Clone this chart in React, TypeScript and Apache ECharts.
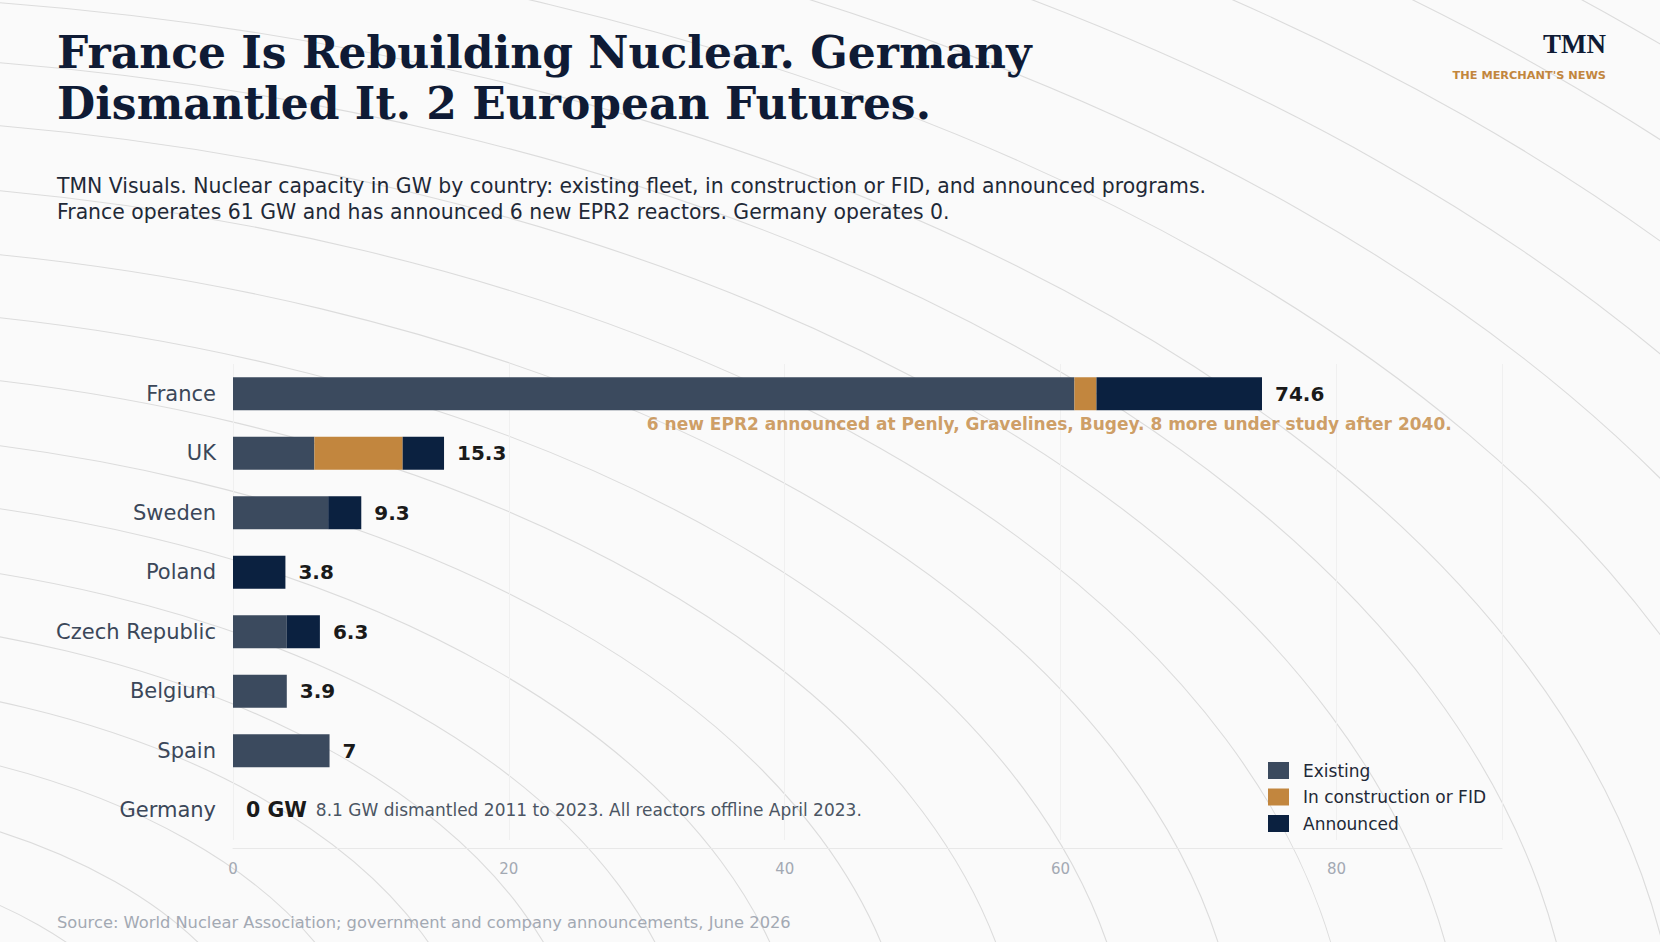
import React, { useEffect, useRef } from "react";
import * as echarts from "echarts";

const countries = ["France", "UK", "Sweden", "Poland", "Czech Republic", "Belgium", "Spain", "Germany"];
const existing = [61, 5.9, 6.9, 0, 3.9, 3.9, 7, 0];
const construction = [1.6, 6.4, 0, 0, 0, 0, 0, 0];
const announced = [12, 3.0, 2.4, 3.8, 2.4, 0, 0, 0];
const seriesNames = ["Existing", "In construction or FID", "Announced"];
const xTicks = [0, 20, 40, 60, 80];
const franceNoteAt = 30;
const franceNote = "6 new EPR2 announced at Penly, Gravelines, Bugey. 8 more under study after 2040.";
const germanyNote = "8.1 GW dismantled 2011 to 2023. All reactors offline April 2023.";
const germanyValue = "0 GW";

const titleText = "France Is Rebuilding Nuclear. Germany\nDismantled It. 2 European Futures.";
const subtitleText =
  "TMN Visuals. Nuclear capacity in GW by country: existing fleet, in construction or FID, and announced programs.\nFrance operates 61 GW and has announced 6 new EPR2 reactors. Germany operates 0.";
const sourceText = "Source: World Nuclear Association; government and company announcements, June 2026";

// decorative background rings (normalized to page size)
const ringCenter = [-0.16, 1.165];
const ringRadii = [0.259, 0.3241, 0.3864, 0.4492, 0.5143, 0.5783, 0.6449, 0.7098, 0.7772, 0.8427, 0.9085, 0.9754, 1.0435, 1.1097, 1.1728, 1.2595, 1.3331, 1.403, 1.4738, 1.5426, 1.6113];

const W = 1660;
const H = 942;
const SANS = "DejaVu Sans, sans-serif";
const SERIF = "DejaVu Serif, serif";
const COLORS = ["#3b4a5e", "#c2863e", "#0b2140"];

export default function App() {
  const ref = useRef<HTMLDivElement>(null);
  useEffect(() => {
    document.body.style.margin = "0";
    const chart = echarts.init(ref.current!, null, { renderer: "svg" });
    const totals = countries.map((_, i) => Number((existing[i] + construction[i] + announced[i]).toFixed(1)));

    const rings = ringRadii.map((r) => ({
      type: "ellipse",
      silent: true,
      z: -100,
      shape: { cx: ringCenter[0] * W, cy: ringCenter[1] * H, rx: r * W, ry: r * H },
      style: { fill: "none", stroke: "#dcdcdc", lineWidth: 1.1 },
    }));

    const barBase = {
      type: "bar",
      stack: "total",
      barWidth: 33,
      silent: true,
    };

    chart.setOption({
      animation: false,
      backgroundColor: "#fafafa",
      textStyle: { fontFamily: SANS },
      grid: { left: 233, right: 158, top: 364, bottom: 102, containLabel: false },
      legend: {
        data: seriesNames,
        orient: "vertical",
        left: 1263,
        top: 757,
        itemWidth: 21,
        itemHeight: 17,
        itemGap: 9.5,
        icon: "rect",
        selectedMode: false,
        textStyle: { fontSize: 17, color: "#1f2937", fontFamily: SANS, padding: [0, 0, 0, 9] },
      },
      xAxis: {
        type: "value",
        min: 0,
        max: 92,
        interval: 20,
        offset: 8,
        axisLine: { show: true, lineStyle: { color: "#e8e8e8", width: 1 } },
        axisTick: { show: false },
        splitLine: { show: true, lineStyle: { color: "#f0f0f0", width: 1 } },
        axisLabel: {
          showMaxLabel: false,
          color: "#a3a9b3",
          fontSize: 15,
          margin: 13,
          fontFamily: SANS,
          formatter: (v: number) => (xTicks.includes(v) ? String(v) : ""),
        },
      },
      yAxis: {
        type: "category",
        inverse: true,
        data: countries,
        axisLine: { show: false },
        axisTick: { show: false },
        splitLine: { show: false },
        axisLabel: { color: "#3b4759", fontSize: 21, margin: 17, fontFamily: SANS, padding: [4, 0, 0, 0] },
      },
      series: [
        { ...barBase, name: seriesNames[0], data: existing, itemStyle: { color: COLORS[0] } },
        { ...barBase, name: seriesNames[1], data: construction, itemStyle: { color: COLORS[1] } },
        {
          ...barBase,
          name: seriesNames[2],
          data: announced,
          itemStyle: { color: COLORS[2] },
          label: {
            show: true,
            position: "right",
            distance: 13,
            formatter: (p: any) =>
              p.dataIndex === countries.length - 1
                ? `{b|${germanyValue}}{n|${germanyNote}}`
                : `{v|${totals[p.dataIndex]}}`,
            rich: {
              v: { fontSize: 20, fontWeight: "bold", color: "#1a1a1a", fontFamily: SANS },
              b: { fontSize: 20.5, fontWeight: "bold", color: "#1a1a1a", fontFamily: SANS },
              n: { fontSize: 17, color: "#4b5563", fontFamily: SANS, padding: [0, 0, 0, 9] },
            },
          },
        },
        {
          type: "scatter",
          name: "note",
          silent: true,
          symbolSize: 0,
          data: [[franceNoteAt, countries[0]]],
          label: {
            show: true,
            position: "right",
            distance: 0,
            offset: [0, 30],
            formatter: franceNote,
            color: "#c2863e",
            fontSize: 17,
            fontWeight: "bold",
            fontFamily: SANS,
          },
        },
      ],
      graphic: [
        ...rings,
        {
          type: "text",
          x: 57,
          y: 27,
          silent: true,
          style: {
            text: titleText,
            fontSize: 44,
            fontWeight: "bold",
            fontFamily: SERIF,
            fill: "#0f1b35",
            lineHeight: 51,
            align: "left",
            verticalAlign: "top",
          },
        },
        {
          type: "text",
          x: 57,
          y: 173,
          silent: true,
          style: {
            text: subtitleText,
            fontSize: 20.4,
            fontFamily: SANS,
            fill: "#1f2937",
            lineHeight: 26,
            align: "left",
            verticalAlign: "top",
          },
        },
        {
          type: "text",
          x: 1606,
          y: 44,
          silent: true,
          style: {
            text: "TMN",
            fontSize: 27,
            fontWeight: "bold",
            fontFamily: "Liberation Serif, serif",
            fill: "#0f1b35",
            align: "right",
            verticalAlign: "middle",
          },
        },
        {
          type: "text",
          x: 1606,
          y: 75,
          silent: true,
          style: {
            text: "THE MERCHANT'S NEWS",
            fontSize: 11.3,
            fontWeight: "bold",
            fontFamily: SANS,
            fill: "#c2863e",
            align: "right",
            verticalAlign: "middle",
          },
        },
        {
          type: "text",
          x: 57,
          y: 922,
          silent: true,
          style: {
            text: sourceText,
            fontSize: 16.3,
            fontFamily: SANS,
            fill: "#a3a9b3",
            align: "left",
            verticalAlign: "middle",
          },
        },
      ],
    });
    return () => chart.dispose();
  }, []);
  return <div ref={ref} style={{ width: W, height: H }} />;
}
